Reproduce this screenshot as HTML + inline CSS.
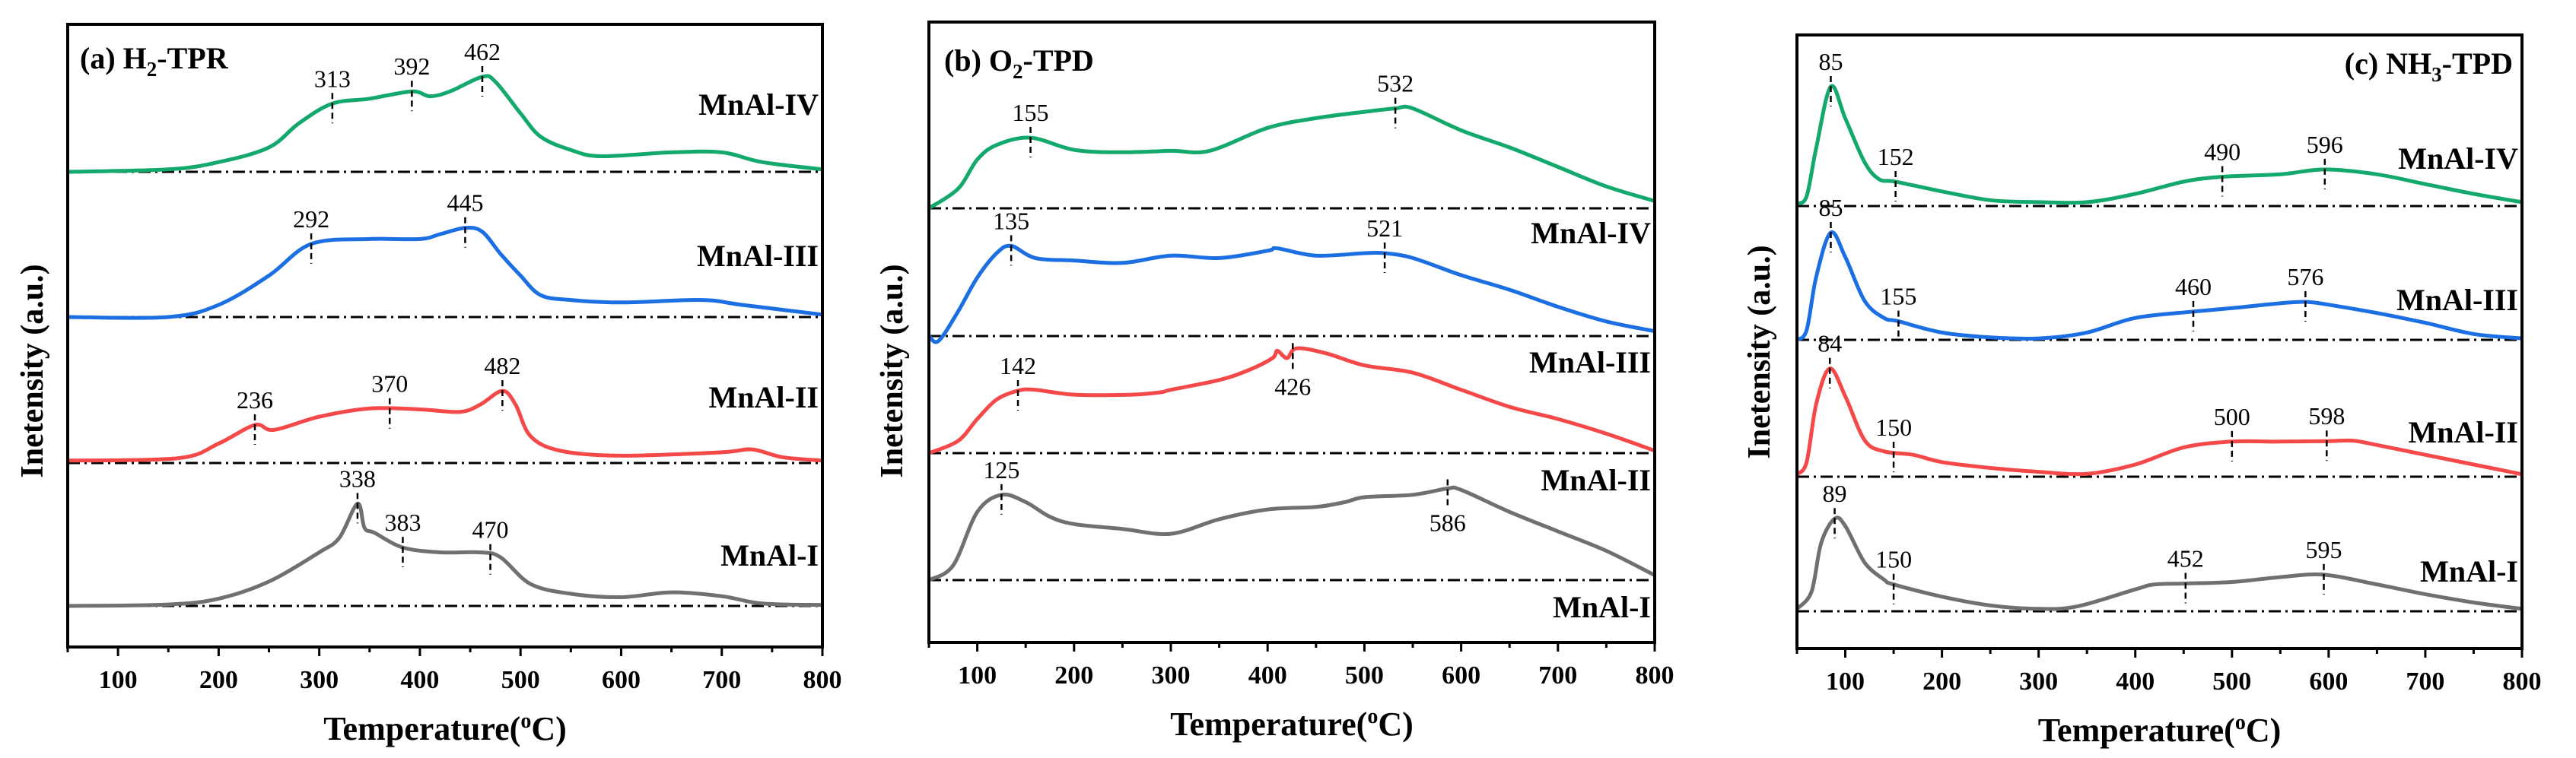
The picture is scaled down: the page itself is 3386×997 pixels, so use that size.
<!DOCTYPE html>
<html><head><meta charset="utf-8">
<style>
html,body{margin:0;padding:0;background:#fff;}
svg{display:block;font-family:"Liberation Serif","DejaVu Serif",serif;}
</style></head>
<body>
<svg id="fig" width="3386" height="997" viewBox="0 0 3386 997" xmlns="http://www.w3.org/2000/svg"></svg>
<script>
// ---------- data (temperature in °C, intensity in a.u.) ----------
const sampleNames = ["MnAl-I","MnAl-II","MnAl-III","MnAl-IV"];
const colors = ["#707070","#f54848","#1c6fe3","#13a86c"];
const xTicks = [100,200,300,400,500,600,700,800];

// Panel (a) H2-TPR
const tprI   = [[50,0],[150,3],[200,15],[250,50],[300,110],[320,140],[338,210],[345,160],[355,150],[383,120],[420,110],[460,110],[480,100],[510,45],[550,25],[600,18],[650,28],[700,20],[740,5],[800,2]];
const tprII  = [[50,5],[160,10],[200,40],[236,78],[255,68],[300,95],[350,112],[400,110],[440,105],[460,120],[482,148],[495,120],[510,55],[540,25],[600,15],[700,22],[730,28],[760,12],[800,5]];
const tprIII = [[50,0],[150,0],[200,25],[250,85],[292,150],[350,160],[400,160],[420,170],[445,183],[462,175],[480,130],[500,85],[520,45],[550,35],[600,30],[680,35],[720,25],[800,5]];
const tprIV  = [[50,0],[150,5],[200,20],[250,50],[280,100],[313,140],[350,150],[392,165],[410,155],[430,165],[462,195],[475,185],[500,120],[520,72],[550,45],[580,32],[650,40],[700,40],[740,20],[800,5]];
const tprPeaks = [[[338,"a"],[383,"a"],[470,"a"]],[[236,"a"],[370,"a"],[482,"a"]],[[292,"a"],[445,"a"]],[[313,"a"],[392,"a"],[462,"a"]]];

// Panel (b) O2-TPD
const o2I   = [[50,0],[75,30],[100,140],[125,175],[150,160],[175,130],[200,115],[250,105],[300,95],[350,125],[400,145],[450,150],[480,160],[500,170],[550,175],[586,188],[600,185],[650,140],[700,100],[750,60],[800,10]];
const o2II  = [[50,0],[80,25],[100,70],[120,110],[142,128],[160,130],[200,120],[260,120],[290,125],[300,130],[350,150],[380,170],[405,195],[410,210],[420,195],[430,215],[460,205],[500,180],[550,165],[600,130],[650,95],[700,70],[750,40],[800,5]];
const o2III = [[50,0],[60,-10],[80,50],[100,120],[120,170],[135,185],[160,160],[200,155],[250,150],[300,165],[350,160],[400,175],[410,180],[450,165],[500,170],[521,170],[550,160],[600,125],[650,95],[700,60],[750,30],[800,10]];
const o2IV  = [[50,0],[80,40],[100,100],[120,130],[155,145],[200,120],[250,115],[300,118],[340,118],[400,165],[450,185],[500,198],[532,205],[550,205],[600,160],[650,125],[700,85],[750,45],[800,15]];
const o2Peaks = [[[125,"a"],[586,"b"]],[[142,"a"],[426,"b"]],[[135,"a"],[521,"a"]],[[155,"a"],[532,"a"]]];

// Panel (c) NH3-TPD
const nhI   = [[50,5],[65,40],[75,140],[89,190],[100,175],[120,100],[140,65],[150,55],[200,30],[250,12],[300,5],[340,10],[400,45],[420,55],[452,57],[500,60],[550,70],[595,75],[650,55],[700,35],[750,18],[800,5]];
const nhII  = [[50,5],[60,30],[70,150],[84,222],[100,165],[120,75],[140,52],[170,45],[200,30],[250,18],[300,10],[350,6],[400,25],[450,60],[500,72],[550,72],[600,73],[625,74],[650,65],[700,45],[750,25],[800,5]];
const nhIII = [[50,0],[60,20],[70,130],[85,220],[100,170],[120,80],[140,45],[155,38],[200,15],[250,5],[300,3],[350,15],[400,45],[460,58],[500,65],[550,75],[576,78],[600,72],[650,55],[700,35],[750,12],[800,3]];
const nhIV  = [[50,5],[60,20],[70,120],[85,245],[100,180],[120,90],[135,55],[152,50],[200,30],[250,12],[300,8],[350,8],[400,25],[450,50],[490,60],[550,65],[596,75],[650,65],[700,45],[750,25],[800,8]];
const nhPeaks = [[[89,"a"],[150,"a"],[452,"a"],[595,"a"]],[[84,"a"],[150,"a"],[500,"a"],[598,"a"]],[[85,"a"],[155,"a"],[460,"a"],[576,"a"]],[[85,"a"],[152,"a"],[490,"a"],[596,"a"]]];

// ---------- layout ----------
const panels = [
  {id:"a", title:["(a) H","2","-TPR"], L:89, R:1081, T:32, B:851, base:[797,609,417,226],
   series:[tprI,tprII,tprIII,tprIV], peaks:tprPeaks, titleX:105, titleY:90, titleAnchor:"start",
   labelY:[744,536,350,151], ylabX:42, ylabY:474},
  {id:"b", title:["(b) O","2","-TPD"], L:1221, R:2175, T:29, B:845, base:[763,596,442,274],
   series:[o2I,o2II,o2III,o2IV], peaks:o2Peaks, titleX:1241, titleY:93, titleAnchor:"start",
   labelY:[812,645,490,320], ylabX:1172, ylabY:474},
  {id:"c", title:["(c) NH","3","-TPD"], L:2362, R:3315, T:46, B:853, base:[804,627,447,271],
   series:[nhI,nhII,nhIII,nhIV], peaks:nhPeaks, titleX:3303, titleY:97, titleAnchor:"end",
   labelY:[765,582,408,222], ylabX:2312, ylabY:449}
];
const K = 1/1.56;
const NS = "http://www.w3.org/2000/svg";
const svg = document.getElementById("fig");
function mk(tag, attrs, parent){
  const e = document.createElementNS(NS, tag);
  for (const k in attrs) e.setAttribute(k, attrs[k]);
  (parent||svg).appendChild(e);
  return e;
}
function interp(data, t){
  for (let i=0;i<data.length-1;i++){
    if (t>=data[i][0] && t<=data[i+1][0]){
      const f=(t-data[i][0])/(data[i+1][0]-data[i][0]);
      return data[i][1]+f*(data[i+1][1]-data[i][1]);
    }
  }
  return data[data.length-1][1];
}
panels.forEach(p=>{
  const g = mk("g",{});
  
  
  const xs = t => p.L + (t-50)/750*(p.R-p.L);
  const ys = (i,v) => p.base[i] - v*K;

  p.base.forEach((b,i)=>{
    const l = mk("line",{x1:p.L,x2:p.R,y1:b,y2:b,stroke:"#000","stroke-width":3,"stroke-dasharray":"16 6 3 6"},g);
    
    
  });
  p.series.forEach((d,i)=>{
    const pts = d.map(q=>[xs(q[0]), ys(i,q[1])]);
    let s = "M"+pts[0][0].toFixed(1)+","+pts[0][1].toFixed(1);
    for (let j=0;j<pts.length-1;j++){
      const p0=pts[Math.max(0,j-1)], p1=pts[j], p2=pts[j+1], p3=pts[Math.min(pts.length-1,j+2)];
      const c1=[p1[0]+(p2[0]-p0[0])/6, p1[1]+(p2[1]-p0[1])/6];
      const c2=[p2[0]-(p3[0]-p1[0])/6, p2[1]-(p3[1]-p1[1])/6];
      s += " C"+c1[0].toFixed(1)+","+c1[1].toFixed(1)+" "+c2[0].toFixed(1)+","+c2[1].toFixed(1)+" "+p2[0].toFixed(1)+","+p2[1].toFixed(1);
    }
    const path = mk("path",{d:s,fill:"none",stroke:colors[i],"stroke-width":5,"stroke-linejoin":"round"},g);
    
    
    p.peaks[i].forEach(pk=>{
      const x = xs(pk[0]); const y = ys(i, interp(d, pk[0]));
      let y1,y2,ty;
      if (pk[1]==="a"){ y1=y-14; y2=y+26; ty=y-22; } else { y1=y-12; y2=y+22; ty=y+56; }
      const ln = mk("line",{x1:x,x2:x,y1:y1,y2:y2,stroke:"#000","stroke-width":2.5,"stroke-dasharray":"8 5"},g);
      
      
      const tx = mk("text",{x:x,y:ty,"text-anchor":"middle","font-size":32,fill:"#000"},g);
      tx.textContent = pk[0];
      
      
    });
    const lab = mk("text",{x:p.R-5,y:p.labelY[i],"text-anchor":"end","font-size":40,"font-weight":"bold",fill:"#000"},g);
    lab.textContent = sampleNames[i];
    
    
  });
  const fr = mk("rect",{x:p.L,y:p.T,width:p.R-p.L,height:p.B-p.T,fill:"none",stroke:"#000","stroke-width":4},g);
  
  
  for (let t=50;t<=800;t+=50){
    const major = t%100===0;
    const tk = mk("line",{x1:xs(t),x2:xs(t),y1:p.B,y2:p.B+(major?12:7),stroke:"#000","stroke-width":3},g);
    
    
  }
  xTicks.forEach(t=>{
    const tl = mk("text",{x:xs(t),y:p.B+54,"text-anchor":"middle","font-size":34,"font-weight":"bold",fill:"#000"},g);
    tl.textContent = t;
    
    
  });
  const xt = mk("text",{x:(p.L+p.R)/2,y:p.B+122,"text-anchor":"middle","font-size":44,"font-weight":"bold",fill:"#000"},g);
  xt.innerHTML = 'Temperature(<tspan dy="-16" font-size="28">o</tspan><tspan dy="16">C)</tspan>';
  
  
  const yt = mk("text",{x:p.ylabX,y:p.ylabY,"text-anchor":"middle","font-size":42,"font-weight":"bold",fill:"#000",transform:"rotate(-90 "+(p.ylabX+14)+" "+p.ylabY+")"},g);
  yt.textContent = "Inetensity (a.u.)";
  
  
  const tt = mk("text",{x:p.titleX,y:p.titleY,"text-anchor":p.titleAnchor,"font-size":40,"font-weight":"bold",fill:"#000"},g);
  tt.innerHTML = p.title[0]+'<tspan dy="10" font-size="27">'+p.title[1]+'</tspan><tspan dy="-10">'+p.title[2]+'</tspan>';
  
  
});
</script>
</body></html>
